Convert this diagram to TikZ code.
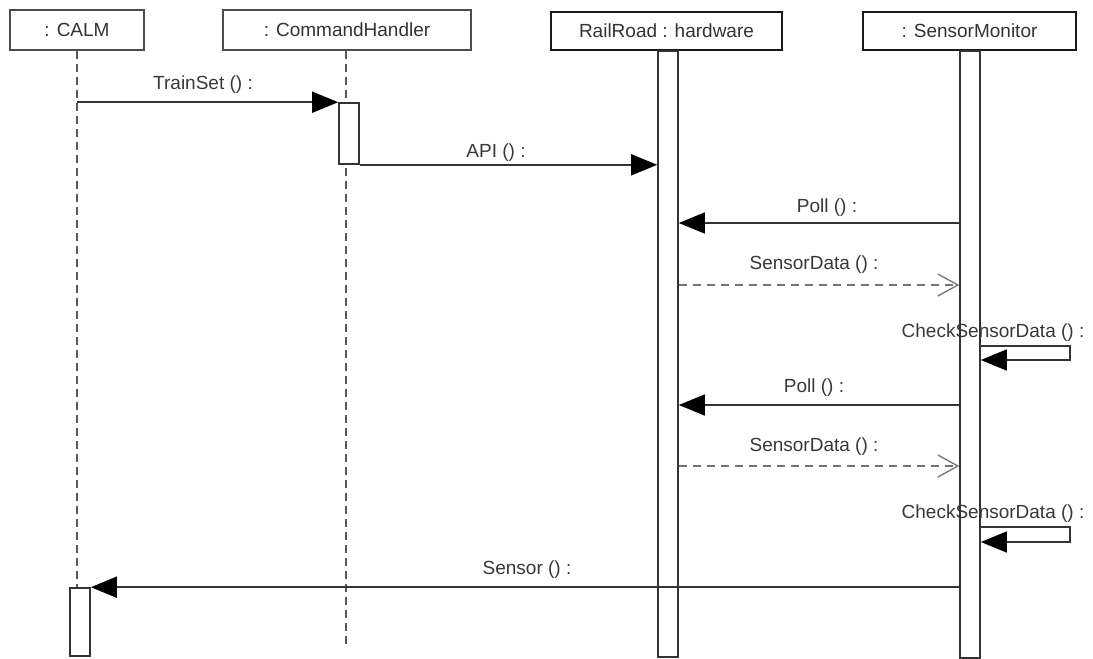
\documentclass[tikz,border=0pt]{standalone}
\usepackage{fontspec}
\setmainfont{Liberation Sans}
\usetikzlibrary{arrows.meta}
\begin{document}
\begin{tikzpicture}[x=1pt,y=-1pt,
  font=\fontsize{19}{21}\selectfont,
  obj/.style={draw=black!70, line width=1.4pt, fill=white, minimum height=40pt, inner sep=0pt, text=black!80},
  actobj/.style={obj, line width=2.8pt, draw=black!90, minimum height=38pt},
  life/.style={draw=black!65, line width=2.2pt, dash pattern=on 8pt off 5pt},
  bar/.style={draw=black!80, line width=1.6pt, fill=white, minimum width=20pt, inner sep=0pt},
  call/.style={draw=black!80, line width=1.6pt, -{Triangle[length=26pt,width=21pt,fill=black,color=black]}},
  reply/.style={draw=black!55, line width=1.5pt, dash pattern=on 8pt off 6pt,
    -{Straight Barb[length=20pt,width=22pt,line width=1.3pt]}},
  lbl/.style={text=black!78, inner sep=0pt},
]
\useasboundingbox (0,0) rectangle (1093,659);

% object headers
\node[obj, minimum width=134pt] (calm) at (77,30) {: CALM};
\node[obj, minimum width=248pt] (ch) at (347,30) {: CommandHandler};
\node[actobj, minimum width=231pt] (rr) at (666.5,31) {RailRoad : hardware};
\node[actobj, minimum width=213pt] (sm) at (969.5,31) {: SensorMonitor};

% activation bars
\node[bar, minimum height=68pt] (calmact) at (80,622) {};
\node[bar, minimum height=61pt] (chact) at (349,133.5) {};
\node[bar, minimum height=606pt, anchor=north] (rrbar) at (668,50) {};
\node[bar, minimum height=607pt, anchor=north] (smbar) at (970,50) {};

% dashed lifelines
\coordinate (chend) at (346,648);
\draw[life] (calm.south) -- (calm.south |- calmact.north);
\draw[life] (ch.south -| chend) -- (chend);
\node[bar, minimum height=61pt] at (chact) {};

% messages
\draw[call] (calm.south |- chact.north) -- (chact.north west);
\node[lbl] (m1) at (203,85) {TrainSet () :};

\draw[call] (chact.south east) -- (rrbar.west |- chact.south);
\node[lbl] (m2) at (496,153) {API () :};

\draw[call] (smbar.west |- 0,223) -- (rrbar.east |- 0,223);
\node[lbl] (m3) at (827,208) {Poll () :};

\draw[reply] (rrbar.east |- 0,285) -- (smbar.west |- 0,285);
\node[lbl] (m4) at (814,265) {SensorData () :};

\node[lbl] (m5) at (993,333) {CheckSensorData () :};
\draw[call, line width=1.4pt] (smbar.east |- 0,346) -- (1070,346) -- (1070,360) -- (smbar.east |- 0,360);

\draw[call] (smbar.west |- 0,405) -- (rrbar.east |- 0,405);
\node[lbl] (m6) at (814,388) {Poll () :};

\draw[reply] (rrbar.east |- 0,466) -- (smbar.west |- 0,466);
\node[lbl] (m7) at (814,447) {SensorData () :};

\node[lbl] (m8) at (993,514) {CheckSensorData () :};
\draw[call, line width=1.4pt] (smbar.east |- 0,527) -- (1070,527) -- (1070,542) -- (smbar.east |- 0,542);

\draw[call] (smbar.west |- calmact.north) -- (calmact.north east);
\node[lbl] (m9) at (527,570) {Sensor () :};
\end{tikzpicture}
\end{document}
